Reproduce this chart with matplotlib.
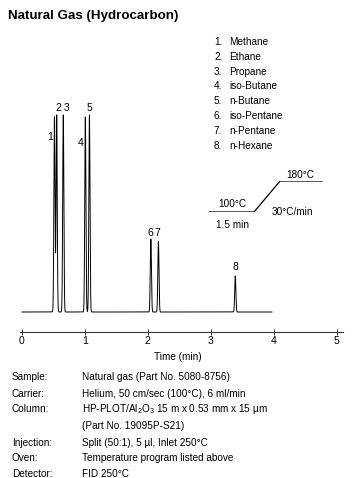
import numpy as np
import matplotlib
matplotlib.use("Agg")
import matplotlib.pyplot as plt

plt.rcParams['font.family'] = ['Liberation Sans', 'DejaVu Sans']
plt.rcParams['mathtext.fontset'] = 'custom'
plt.rcParams['mathtext.rm'] = 'Liberation Sans'

# peaks (time in min, relative height)
peak_ids = ["1", "2", "3", "4", "5", "6", "7", "8"]
peak_names = ["Methane", "Ethane", "Propane", "iso-Butane", "n-Butane",
              "iso-Pentane", "n-Pentane", "n-Hexane"]
peak_times = [0.52, 0.555, 0.66, 1.01, 1.075, 2.05, 2.17, 3.39]
peak_heights = [99, 100, 100, 99, 100, 37, 35.7, 18.3]

# oven program: hold 100C for 1.5 min then 30C/min to 180C (schematic)
oven_x = [0, 1.5, 2.37, 3.8]
oven_temp = [100, 100, 180, 180]

tick_labels = ["0", "1", "2", "3", "4", "5"]

conditions = [
    ("Sample:", "Natural gas (Part No. 5080-8756)"),
    ("Carrier:", "Helium, 50 cm/sec (100\u00b0C), 6 ml/min"),
    ("Column:", "HP-PLOT/Al$_2$O$_3$ 15 m x 0.53 mm x 15 \u00b5m"),
    ("", "(Part No. 19095P-S21)"),
    ("Injection:", "Split (50:1), 5 \u00b5l, Inlet 250\u00b0C"),
    ("Oven:", "Temperature program listed above"),
    ("Detector:", "FID 250\u00b0C"),
]

W, H = 355, 478
FS = 7.2
fig = plt.figure(figsize=(W / 100, H / 100), dpi=100)


def fx(x):
    return x / W


def fy(y):
    return 1 - y / H


# main chromatogram axes
ax = fig.add_axes([fx(20), fy(332), fx(343) - fx(20), (332 - 100) / H])
t = np.linspace(0.005, 3.97, 30000)
sig = 0.009
trace = np.zeros_like(t)
for tm, h in zip(peak_times, peak_heights):
    trace += h * np.exp(-0.5 * ((t - tm) / sig) ** 2)
ax.plot(t, trace, color='black', lw=0.7)
ax.set_xlim(-0.027, 5.1)
ax.set_ylim(-10.15, 107.6)

for s in ['top', 'right', 'left']:
    ax.spines[s].set_visible(False)
ax.spines['bottom'].set_color('#333333')
ax.spines['bottom'].set_linewidth(0.8)
ax.set_yticks([])
ax.set_xticks(range(len(tick_labels)))
ax.set_xticklabels(tick_labels, fontsize=FS + 0.3)
ax.tick_params(axis='x', direction='inout', length=4, width=0.7, pad=1, colors='#333333')
for lab in ax.get_xticklabels():
    lab.set_color('black')

# peak number labels (offsets in points)
label_offsets = [(-3.4, -14.4), (0.9, 5), (2.7, 5), (-3.1, -18.7), (0, 5),
                 (-0.7, 4.3), (-0.5, 6.5), (0, 6.5)]
for pid, tm, h, off in zip(peak_ids, peak_times, peak_heights, label_offsets):
    ax.annotate(pid, (tm, h), xytext=off, textcoords='offset points',
                ha='center', va='center', fontsize=FS + 0.3)

# component list
for i, (pid, name) in enumerate(zip(peak_ids, peak_names)):
    y = 42 + i * 14.8
    fig.text(fx(214), fy(y), pid + ".", ha='left', va='center', fontsize=FS)
    fig.text(fx(229), fy(y), name, ha='left', va='center', fontsize=FS)

# oven temperature schematic
ov = fig.add_axes([fx(209), fy(212), fx(323) - fx(209), (212 - 181) / H])
ov.plot(oven_x, oven_temp, color='black', lw=0.9)
ov.set_xlim(oven_x[0], oven_x[-1])
ov.set_ylim(oven_temp[0], oven_temp[-1])
ov.axis('off')
fig.text(fx(232), fy(204), "100\u00b0C", ha='center', va='center', fontsize=FS)
fig.text(fx(233), fy(225), "1.5 min", ha='center', va='center', fontsize=FS)
fig.text(fx(292), fy(212), "30\u00b0C/min", ha='center', va='center', fontsize=FS)
fig.text(fx(300), fy(175), "180\u00b0C", ha='center', va='center', fontsize=FS)

# title and axis label
fig.text(fx(8), fy(16), "Natural Gas (Hydrocarbon)", ha='left', va='center',
         fontsize=9.6, fontweight='bold')
fig.text(fx(178), fy(357), "Time (min)", ha='center', va='center', fontsize=FS)

# conditions table
rows_y = [377, 394, 409, 426, 443, 458, 474]
for (lab, val), y in zip(conditions, rows_y):
    fig.text(fx(12), fy(y), lab, ha='left', va='center', fontsize=FS)
    fig.text(fx(82), fy(y), val, ha='left', va='center', fontsize=FS)

fig.savefig("out.png", dpi=100)
